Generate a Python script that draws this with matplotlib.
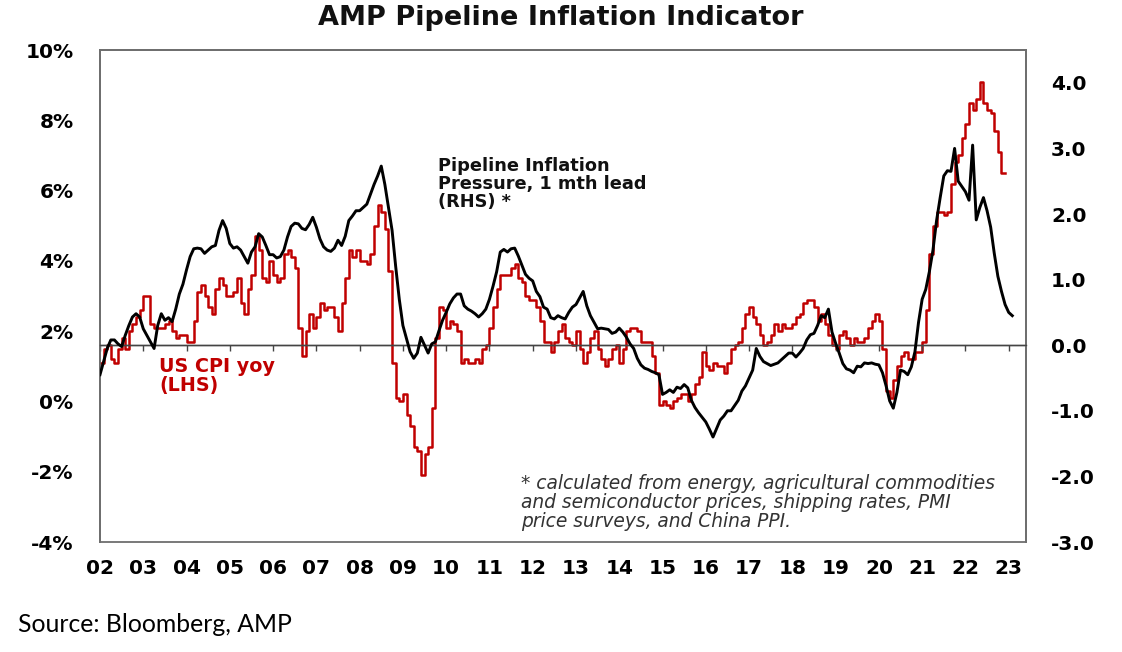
import matplotlib
matplotlib.use("Agg")
import matplotlib.pyplot as plt
import numpy as np

# ---------------- data ----------------
start_year = 2002
# US CPI yoy (%), monthly from Jan 2002 to Dec 2022 (LHS)
cpi_yoy = [
    1.1, 1.1, 1.5, 1.6, 1.2, 1.1, 1.5, 1.8, 1.5, 2.0, 2.2, 2.4,   # 2002
    2.6, 3.0, 3.0, 2.2, 2.1, 2.1, 2.1, 2.2, 2.3, 2.0, 1.8, 1.9,   # 2003
    1.9, 1.7, 1.7, 2.3, 3.1, 3.3, 3.0, 2.7, 2.5, 3.2, 3.5, 3.3,   # 2004
    3.0, 3.0, 3.1, 3.5, 2.8, 2.5, 3.2, 3.6, 4.7, 4.3, 3.5, 3.4,   # 2005
    4.0, 3.6, 3.4, 3.5, 4.2, 4.3, 4.1, 3.8, 2.1, 1.3, 2.0, 2.5,   # 2006
    2.1, 2.4, 2.8, 2.6, 2.7, 2.7, 2.4, 2.0, 2.8, 3.5, 4.3, 4.1,   # 2007
    4.3, 4.0, 4.0, 3.9, 4.2, 5.0, 5.6, 5.4, 4.9, 3.7, 1.1, 0.1,   # 2008
    0.0, 0.2, -0.4, -0.7, -1.3, -1.4, -2.1, -1.5, -1.3, -0.2, 1.8, 2.7,  # 2009
    2.6, 2.1, 2.3, 2.2, 2.0, 1.1, 1.2, 1.1, 1.1, 1.2, 1.1, 1.5,   # 2010
    1.6, 2.1, 2.7, 3.2, 3.6, 3.6, 3.6, 3.8, 3.9, 3.5, 3.4, 3.0,   # 2011
    2.9, 2.9, 2.7, 2.3, 1.7, 1.7, 1.4, 1.7, 2.0, 2.2, 1.8, 1.7,   # 2012
    1.6, 2.0, 1.5, 1.1, 1.4, 1.8, 2.0, 1.5, 1.2, 1.0, 1.2, 1.5,   # 2013
    1.6, 1.1, 1.5, 2.0, 2.1, 2.1, 2.0, 1.7, 1.7, 1.7, 1.3, 0.8,   # 2014
    -0.1, 0.0, -0.1, -0.2, 0.0, 0.1, 0.2, 0.2, 0.0, 0.2, 0.5, 0.7,  # 2015
    1.4, 1.0, 0.9, 1.1, 1.0, 1.0, 0.8, 1.1, 1.5, 1.6, 1.7, 2.1,   # 2016
    2.5, 2.7, 2.4, 2.2, 1.9, 1.6, 1.7, 1.9, 2.2, 2.0, 2.2, 2.1,   # 2017
    2.1, 2.2, 2.4, 2.5, 2.8, 2.9, 2.9, 2.7, 2.3, 2.5, 2.2, 1.9,   # 2018
    1.6, 1.5, 1.9, 2.0, 1.8, 1.6, 1.8, 1.7, 1.7, 1.8, 2.1, 2.3,   # 2019
    2.5, 2.3, 1.5, 0.3, 0.1, 0.6, 1.0, 1.3, 1.4, 1.2, 1.2, 1.4,   # 2020
    1.4, 1.7, 2.6, 4.2, 5.0, 5.4, 5.4, 5.3, 5.4, 6.2, 6.8, 7.0,   # 2021
    7.5, 7.9, 8.5, 8.3, 8.6, 9.1, 8.5, 8.3, 8.2, 7.7, 7.1, 6.5,   # 2022
]
# Pipeline Inflation Pressure, 1 mth lead (RHS), monthly from Jan 2002 to Feb 2023
pipeline = [
    -0.45, -0.25, -0.05, 0.08, 0.08, 0.02, -0.02, 0.15, 0.30, 0.43, 0.48, 0.43,   # 2002
    0.25, 0.15, 0.05, -0.05, 0.30, 0.48, 0.38, 0.42, 0.36, 0.55, 0.78, 0.93,      # 2003
    1.15, 1.35, 1.47, 1.48, 1.47, 1.40, 1.45, 1.50, 1.52, 1.75, 1.90, 1.78,       # 2004
    1.55, 1.48, 1.50, 1.45, 1.35, 1.25, 1.42, 1.50, 1.70, 1.65, 1.52, 1.38,       # 2005
    1.38, 1.33, 1.35, 1.45, 1.65, 1.81, 1.86, 1.85, 1.78, 1.76, 1.84, 1.95,       # 2006
    1.80, 1.62, 1.50, 1.45, 1.43, 1.48, 1.60, 1.52, 1.66, 1.90, 1.97, 2.05,       # 2007
    2.05, 2.10, 2.15, 2.30, 2.45, 2.58, 2.73, 2.45, 2.10, 1.75, 1.20, 0.70,       # 2008
    0.30, 0.10, -0.10, -0.20, -0.12, 0.12, 0.00, -0.12, 0.02, 0.05, 0.22, 0.38,   # 2009
    0.50, 0.63, 0.72, 0.78, 0.78, 0.60, 0.55, 0.52, 0.48, 0.43, 0.48, 0.55,       # 2010
    0.70, 0.90, 1.12, 1.42, 1.46, 1.42, 1.47, 1.48, 1.36, 1.22, 1.08, 1.02,       # 2011
    0.98, 0.82, 0.74, 0.58, 0.55, 0.42, 0.40, 0.45, 0.42, 0.40, 0.50, 0.58,       # 2012
    0.62, 0.72, 0.82, 0.60, 0.45, 0.35, 0.25, 0.26, 0.25, 0.24, 0.18, 0.20,       # 2013
    0.26, 0.20, 0.12, 0.02, -0.05, -0.20, -0.30, -0.35, -0.37, -0.40, -0.42, -0.45,  # 2014
    -0.75, -0.72, -0.68, -0.72, -0.64, -0.66, -0.60, -0.65, -0.84, -0.95, -1.03, -1.10,  # 2015
    -1.17, -1.28, -1.40, -1.27, -1.14, -1.08, -1.00, -1.00, -0.92, -0.84, -0.70, -0.62,  # 2016
    -0.50, -0.38, -0.05, -0.17, -0.25, -0.28, -0.31, -0.29, -0.27, -0.22, -0.17, -0.12,  # 2017
    -0.12, -0.18, -0.12, -0.05, 0.08, 0.16, 0.18, 0.30, 0.45, 0.42, 0.55, 0.20,   # 2018
    0.03, -0.12, -0.28, -0.36, -0.38, -0.42, -0.32, -0.33, -0.27, -0.28, -0.27, -0.29,  # 2019
    -0.30, -0.42, -0.62, -0.85, -0.96, -0.72, -0.38, -0.40, -0.45, -0.33, -0.10, 0.35,  # 2020
    0.70, 0.85, 1.12, 1.45, 1.90, 2.25, 2.58, 2.66, 2.65, 3.00, 2.50, 2.42,       # 2021
    2.34, 2.21, 3.05, 1.91, 2.10, 2.25, 2.05, 1.80, 1.40, 1.05, 0.82, 0.62,       # 2022
    0.50, 0.45,                                                                   # 2023
]
year_ticks = list(range(2002, 2024))
year_labels = [f"{y % 100:02d}" for y in year_ticks]
lhs_ticks = [-4, -2, 0, 2, 4, 6, 8, 10]
rhs_ticks = [-3, -2, -1, 0, 1, 2, 3, 4]

# ---------------- figure ----------------
plt.rcParams['font.family'] = ['DejaVu Sans']
RED = '#C00000'
FRAME = '#6e6e6e'

fig = plt.figure(figsize=(11.22, 6.52), dpi=100)
ax = fig.add_axes([100 / 1122, 1 - 542 / 652, 926 / 1122, 492 / 652])
ax2 = ax.twinx()

cpi_x = start_year + np.arange(len(cpi_yoy)) / 12.0
pipe_x = start_year + np.arange(len(pipeline)) / 12.0

ax.plot(cpi_x, cpi_yoy, drawstyle='steps-pre', color=RED, lw=1.8, zorder=3)
ax2.axhline(0, color='#444444', lw=1.0, zorder=1)
ax2.plot(pipe_x, pipeline, color='black', lw=2.1, zorder=4)

ax.set_xlim(2002.0, 2023.4)
ax.set_ylim(-4, 10)
ax2.set_ylim(-3, 4.5)

ax.set_xticks(year_ticks)
ax.set_xticklabels(year_labels, fontsize=14.5, fontweight='bold')
ax.set_yticks(lhs_ticks)
ax.set_yticklabels([f"{v}%" for v in lhs_ticks], fontsize=14.5, fontweight='bold')
ax2.set_yticks(rhs_ticks)
ax2.set_yticklabels([f"{v:.1f}" for v in rhs_ticks], fontsize=14.5, fontweight='bold')

ax.tick_params(axis='x', length=0, pad=12)
ax.tick_params(axis='y', length=0, pad=19)
ax2.tick_params(axis='y', length=0, pad=18)

# small tick marks hanging from the RHS zero line
ax2.xaxis.set_visible(True)
ax2.spines['bottom'].set_position(('data', 0))
ax2.spines['bottom'].set_color('#444444')
ax2.spines['bottom'].set_linewidth(1.0)
ax2.tick_params(axis='x', which='both', bottom=True, top=False, labelbottom=False,
                labeltop=False, direction='out', length=4, width=1.0, color='#444444')

for a in (ax, ax2):
    for side in ('left', 'right', 'top'):
        a.spines[side].set_color(FRAME)
        a.spines[side].set_linewidth(1.3)
ax.spines['bottom'].set_color(FRAME)
ax.spines['bottom'].set_linewidth(1.3)

# texts
fig.text(0.5, 1 - 18 / 652, 'AMP Pipeline Inflation Indicator', ha='center', va='center',
         fontsize=19.5, fontweight='bold', color='#111111')
ax.text(0.365, 0.782, 'Pipeline Inflation\nPressure, 1 mth lead\n(RHS) *', transform=ax.transAxes,
        ha='left', va='top', fontsize=12.8, fontweight='bold', color='#111111', linespacing=1.0)
ax.text(0.0637, 0.376, 'US CPI yoy\n(LHS)', transform=ax.transAxes, ha='left', va='top',
        fontsize=13.8, fontweight='bold', color=RED, linespacing=0.98)
ax.text(0.4546, 0.138, '* calculated from energy, agricultural commodities\n'
        'and semiconductor prices, shipping rates, PMI\nprice surveys, and China PPI.',
        transform=ax.transAxes, ha='left', va='top', fontsize=13.4, fontstyle='italic',
        color='#333333', linespacing=0.98)
fig.text(18 / 1122, 1 - 625 / 652, 'Source: Bloomberg, AMP', ha='left', va='center',
         fontsize=17.8, family=['Lato', 'DejaVu Sans'], color='black')

fig.savefig('out.png', dpi=100)
